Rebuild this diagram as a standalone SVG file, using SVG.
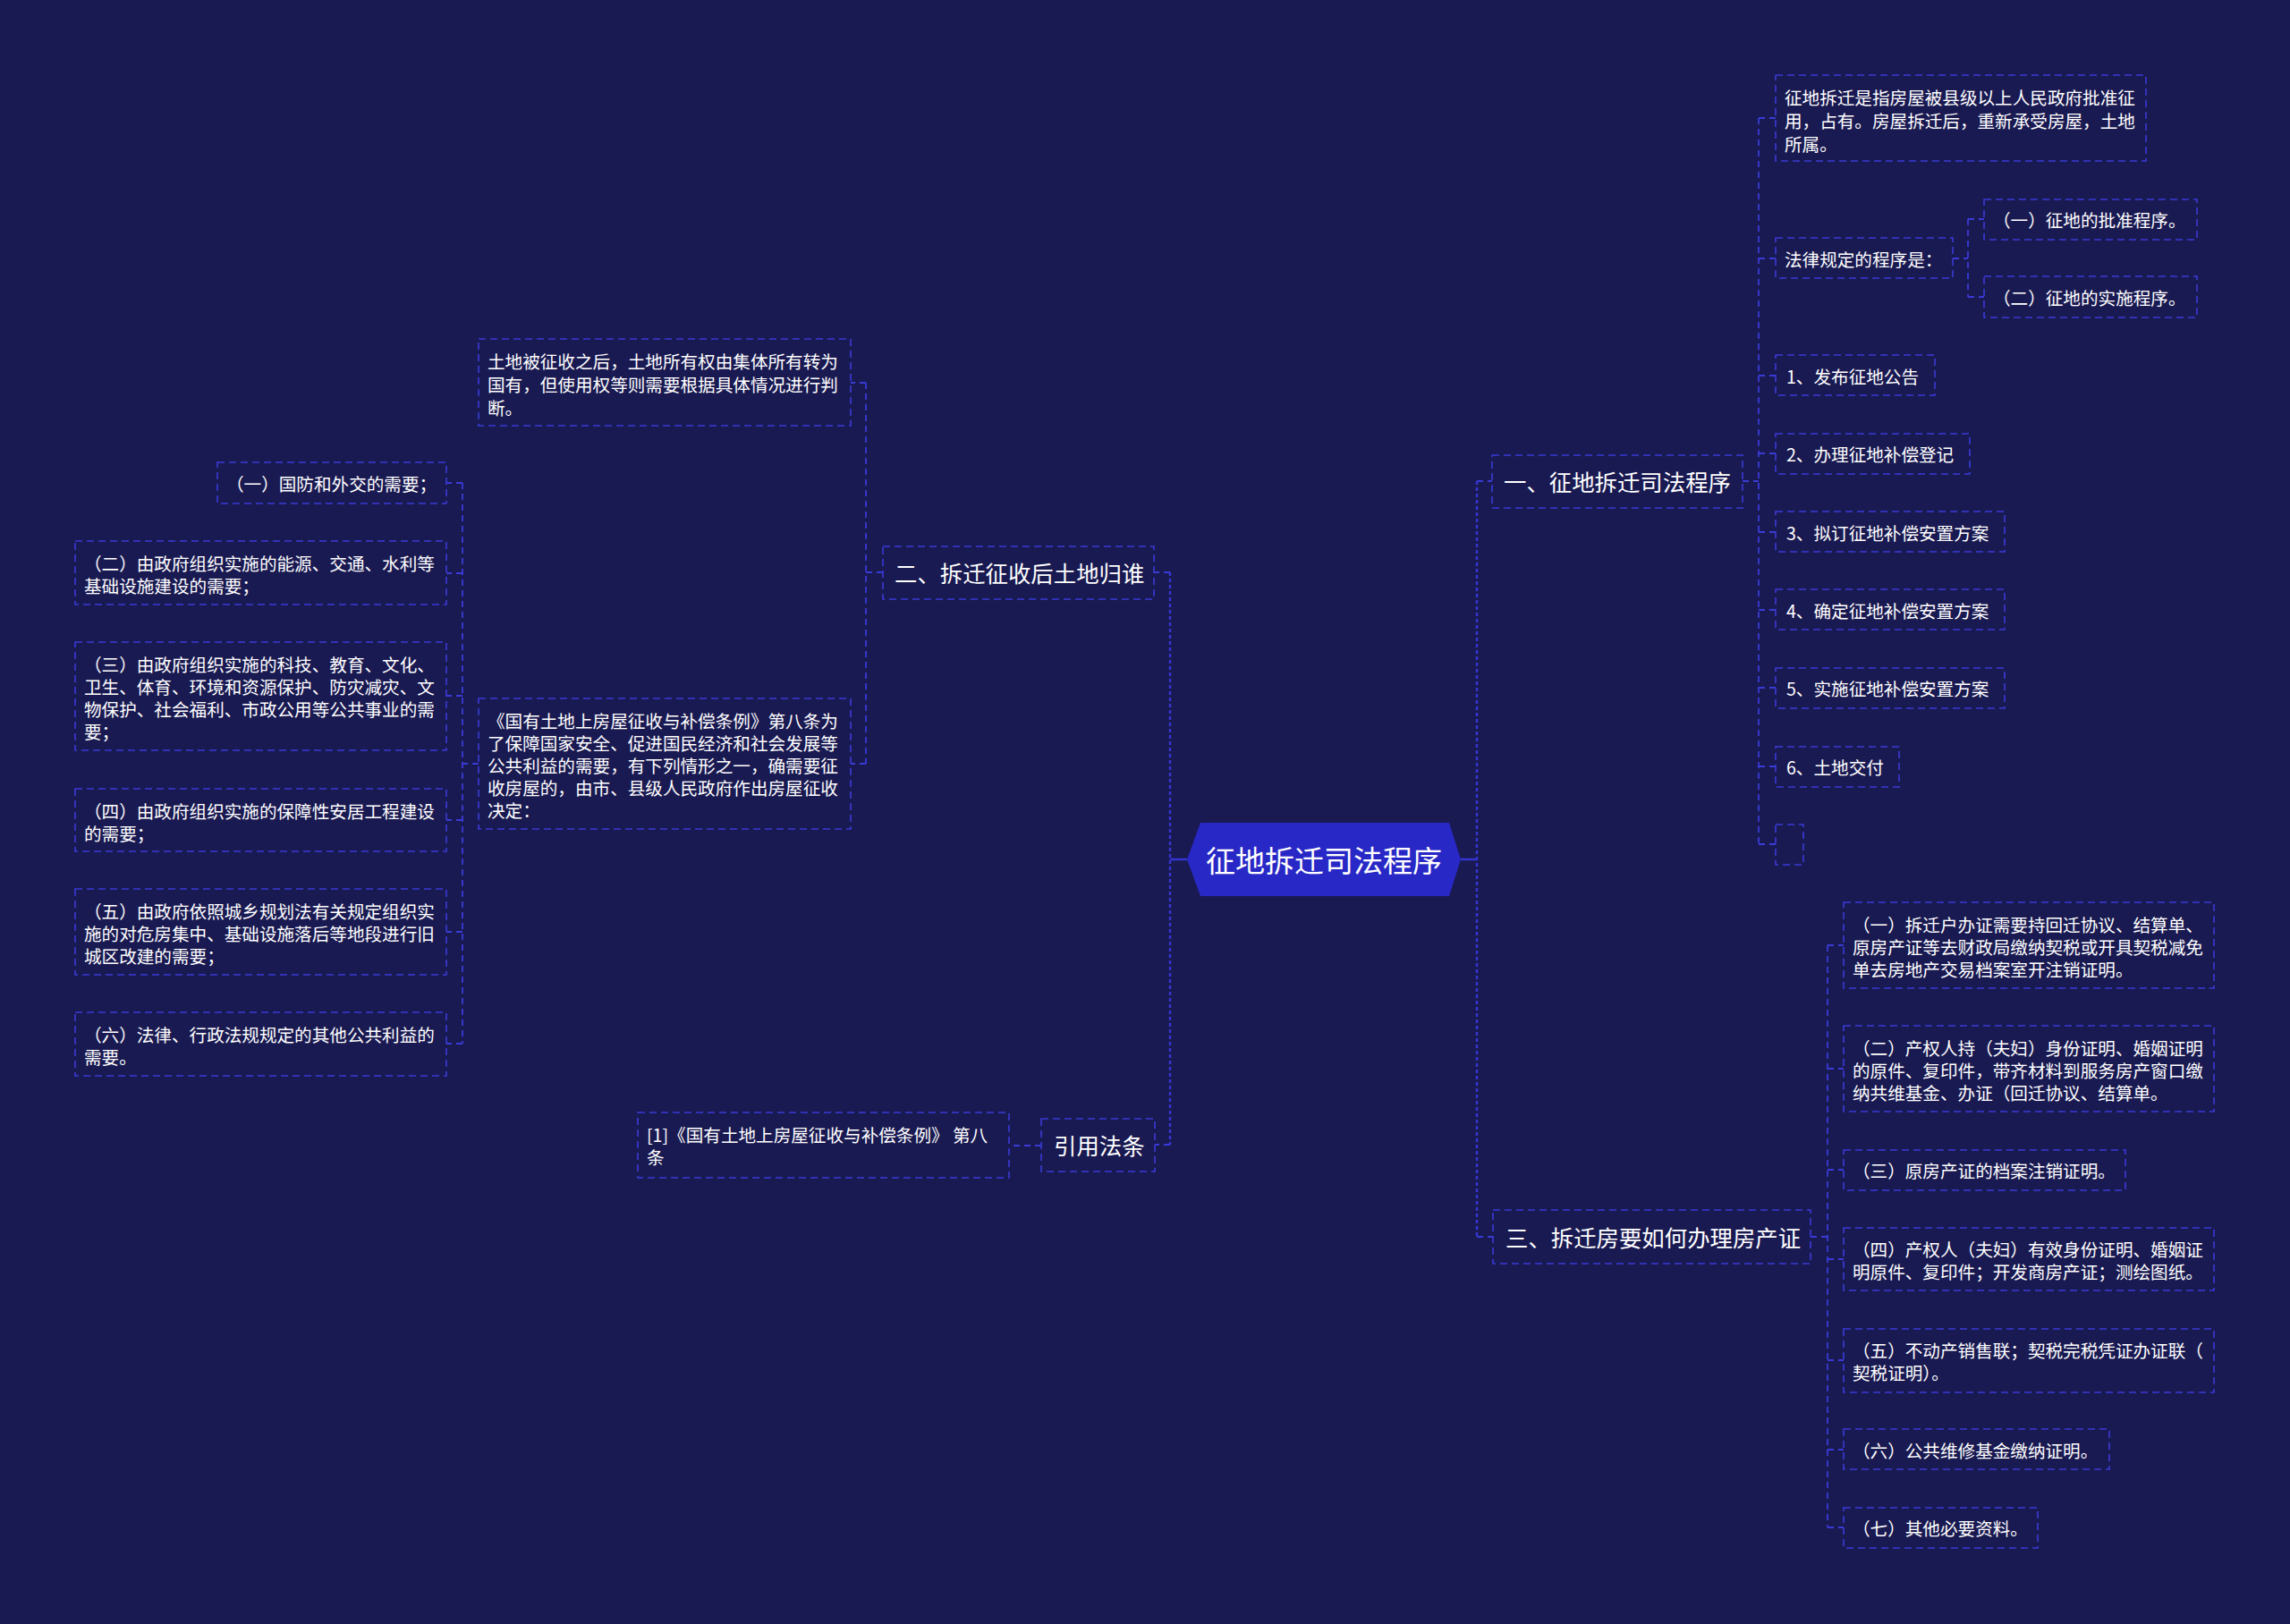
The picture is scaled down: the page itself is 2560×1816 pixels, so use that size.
<svg xmlns="http://www.w3.org/2000/svg" width="2560" height="1816" viewBox="0 0 2560 1816">
<style>
.bg{fill:#1a1a52}
.box{fill:none;stroke:#3a3ad6;stroke-width:1.6;stroke-dasharray:8 5}
.con{fill:none;stroke:#3a3ad6;stroke-width:1.8;stroke-dasharray:7 5}
.main{fill:none;stroke:#3535d0;stroke-width:2.5;stroke-dasharray:4 3}
.solid{fill:none;stroke:#3535d0;stroke-width:2.5}
.t{fill:#ffffff;font-family:"Noto Sans CJK SC","Noto Sans",sans-serif;font-size:19.6px;dominant-baseline:central}
.t1{fill:#ffffff;font-family:"Noto Sans CJK SC","Noto Sans",sans-serif;font-size:25.4px;dominant-baseline:central}
.t0{fill:#ffffff;font-family:"Noto Sans CJK SC","Noto Sans",sans-serif;font-size:33px;dominant-baseline:central;text-anchor:middle}
</style>
<rect class="bg" x="0" y="0" width="2560" height="1816"/>

<g id="connectors">
  <!-- center to spines -->
  <path class="solid" d="M1327 961 H1308"/>
  <path class="solid" d="M1633 961 H1651"/>
  <path class="main" d="M1308 640 V1280"/>
  <path class="main" d="M1651 538 V1383"/>
  <path class="con" d="M1308 640 H1290"/>
  <path class="con" d="M1308 1280 H1291"/>
  <path class="con" d="M1651 538 H1668"/>
  <path class="con" d="M1651 1383 H1669"/>
  <!-- N1 children -->
  <path class="con" d="M1948 538 H1966 M1966 132 V944 M1966 132 H1985 M1966 289 H1985 M1966 420 H1985 M1966 507 H1985 M1966 595 H1985 M1966 682 H1985 M1966 769 H1985 M1966 857 H1985 M1966 944 H1985"/>
  <path class="con" d="M2183 289 H2200 M2200 245 V332 M2200 245 H2218 M2200 332 H2218"/>
  <!-- N3 children -->
  <path class="con" d="M2024 1383 H2043 M2043 1057 V1708 M2043 1057 H2061 M2043 1195 H2061 M2043 1308 H2061 M2043 1408 H2061 M2043 1521 H2061 M2043 1621 H2061 M2043 1708 H2061"/>
  <!-- N2 children -->
  <path class="con" d="M987 640 H968 M968 428 V854 M968 428 H951 M968 854 H951"/>
  <path class="con" d="M535 854 H517 M517 540 V1167 M517 540 H499 M517 641 H499 M517 778 H499 M517 917 H499 M517 1042 H499 M517 1167 H499"/>
  <!-- N4 child -->
  <path class="con" d="M1164 1281 H1128"/>
</g>

<g id="center">
  <polygon points="1327,961 1342,920 1620,920 1633,961 1620,1002 1342,1002" fill="#2828c6"/>
  <text class="t0" x="1480" y="961">征地拆迁司法程序</text>
</g>

<g id="n1">
  <rect class="box" x="1668" y="509" width="280" height="59"/>
  <text class="t1" x="1681" y="538">一、征地拆迁司法程序</text>
</g>
<g id="n1-a1">
  <rect class="box" x="1985" y="84" width="414" height="96"/>
  <text class="t"><tspan x="1995" y="108">征地拆迁是指房屋被县级以上人民政府批准征</tspan><tspan x="1995" y="134">用，占有。房屋拆迁后，重新承受房屋，土地</tspan><tspan x="1995" y="160">所属。</tspan></text>
</g>
<g id="n1-a2">
  <rect class="box" x="1985" y="266" width="198" height="45"/>
  <text class="t" x="1995" y="289">法律规定的程序是：</text>
</g>
<g id="n1-a2a">
  <rect class="box" x="2218" y="223" width="238" height="45"/>
  <text class="t" x="2228" y="245">（一）征地的批准程序。</text>
</g>
<g id="n1-a2b">
  <rect class="box" x="2218" y="309" width="238" height="46"/>
  <text class="t" x="2228" y="332">（二）征地的实施程序。</text>
</g>
<g id="n1-b1">
  <rect class="box" x="1985" y="397" width="178" height="45"/>
  <text class="t" x="1997" y="420">1、发布征地公告</text>
</g>
<g id="n1-b2">
  <rect class="box" x="1985" y="485" width="217" height="45"/>
  <text class="t" x="1997" y="507">2、办理征地补偿登记</text>
</g>
<g id="n1-b3">
  <rect class="box" x="1985" y="572" width="256" height="45"/>
  <text class="t" x="1997" y="595">3、拟订征地补偿安置方案</text>
</g>
<g id="n1-b4">
  <rect class="box" x="1985" y="659" width="256" height="45"/>
  <text class="t" x="1997" y="682">4、确定征地补偿安置方案</text>
</g>
<g id="n1-b5">
  <rect class="box" x="1985" y="747" width="256" height="45"/>
  <text class="t" x="1997" y="769">5、实施征地补偿安置方案</text>
</g>
<g id="n1-b6">
  <rect class="box" x="1985" y="835" width="138" height="45"/>
  <text class="t" x="1997" y="857">6、土地交付</text>
</g>
<g id="n1-b7">
  <rect class="box" x="1985" y="922" width="31" height="45"/>
</g>

<g id="n3">
  <rect class="box" x="1669" y="1353" width="355" height="60"/>
  <text class="t1" x="1683" y="1383">三、拆迁房要如何办理房产证</text>
</g>
<g id="n3-c1">
  <rect class="box" x="2061" y="1009" width="414" height="96"/>
  <text class="t"><tspan x="2071" y="1033">（一）拆迁户办证需要持回迁协议、结算单、</tspan><tspan x="2071" y="1058">原房产证等去财政局缴纳契税或开具契税减免</tspan><tspan x="2071" y="1083">单去房地产交易档案室开注销证明。</tspan></text>
</g>
<g id="n3-c2">
  <rect class="box" x="2061" y="1147" width="414" height="96"/>
  <text class="t"><tspan x="2071" y="1171">（二）产权人持（夫妇）身份证明、婚姻证明</tspan><tspan x="2071" y="1196">的原件、复印件，带齐材料到服务房产窗口缴</tspan><tspan x="2071" y="1221">纳共维基金、办证（回迁协议、结算单。</tspan></text>
</g>
<g id="n3-c3">
  <rect class="box" x="2061" y="1286" width="315" height="45"/>
  <text class="t" x="2071" y="1308">（三）原房产证的档案注销证明。</text>
</g>
<g id="n3-c4">
  <rect class="box" x="2061" y="1373" width="414" height="70"/>
  <text class="t"><tspan x="2071" y="1396">（四）产权人（夫妇）有效身份证明、婚姻证</tspan><tspan x="2071" y="1421">明原件、复印件；开发商房产证；测绘图纸。</tspan></text>
</g>
<g id="n3-c5">
  <rect class="box" x="2061" y="1486" width="414" height="71"/>
  <text class="t"><tspan x="2071" y="1509">（五）不动产销售联；契税完税凭证办证联（</tspan><tspan x="2071" y="1534">契税证明）。</tspan></text>
</g>
<g id="n3-c6">
  <rect class="box" x="2061" y="1598" width="297" height="45"/>
  <text class="t" x="2071" y="1621">（六）公共维修基金缴纳证明。</text>
</g>
<g id="n3-c7">
  <rect class="box" x="2061" y="1686" width="217" height="45"/>
  <text class="t" x="2071" y="1708">（七）其他必要资料。</text>
</g>

<g id="n2">
  <rect class="box" x="987" y="611" width="303" height="59"/>
  <text class="t1" x="1000" y="640">二、拆迁征收后土地归谁</text>
</g>
<g id="n2-d1">
  <rect class="box" x="535" y="379" width="416" height="97"/>
  <text class="t"><tspan x="545" y="403">土地被征收之后，土地所有权由集体所有转为</tspan><tspan x="545" y="429">国有，但使用权等则需要根据具体情况进行判</tspan><tspan x="545" y="455">断。</tspan></text>
</g>
<g id="n2-d2">
  <rect class="box" x="535" y="781" width="416" height="146"/>
  <text class="t"><tspan x="545" y="805">《国有土地上房屋征收与补偿条例》第八条为</tspan><tspan x="545" y="830">了保障国家安全、促进国民经济和社会发展等</tspan><tspan x="545" y="855">公共利益的需要，有下列情形之一，确需要征</tspan><tspan x="545" y="880">收房屋的，由市、县级人民政府作出房屋征收</tspan><tspan x="545" y="905">决定：</tspan></text>
</g>
<g id="n2-e1">
  <rect class="box" x="243" y="517" width="256" height="46"/>
  <text class="t" x="253" y="540">（一）国防和外交的需要；</text>
</g>
<g id="n2-e2">
  <rect class="box" x="84" y="605" width="415" height="71"/>
  <text class="t"><tspan x="94" y="629">（二）由政府组织实施的能源、交通、水利等</tspan><tspan x="94" y="654">基础设施建设的需要；</tspan></text>
</g>
<g id="n2-e3">
  <rect class="box" x="84" y="718" width="415" height="121"/>
  <text class="t"><tspan x="94" y="742">（三）由政府组织实施的科技、教育、文化、</tspan><tspan x="94" y="767">卫生、体育、环境和资源保护、防灾减灾、文</tspan><tspan x="94" y="792">物保护、社会福利、市政公用等公共事业的需</tspan><tspan x="94" y="817">要；</tspan></text>
</g>
<g id="n2-e4">
  <rect class="box" x="84" y="882" width="415" height="70"/>
  <text class="t"><tspan x="94" y="906">（四）由政府组织实施的保障性安居工程建设</tspan><tspan x="94" y="931">的需要；</tspan></text>
</g>
<g id="n2-e5">
  <rect class="box" x="84" y="994" width="415" height="96"/>
  <text class="t"><tspan x="94" y="1018">（五）由政府依照城乡规划法有关规定组织实</tspan><tspan x="94" y="1043">施的对危房集中、基础设施落后等地段进行旧</tspan><tspan x="94" y="1068">城区改建的需要；</tspan></text>
</g>
<g id="n2-e6">
  <rect class="box" x="84" y="1132" width="415" height="71"/>
  <text class="t"><tspan x="94" y="1156">（六）法律、行政法规规定的其他公共利益的</tspan><tspan x="94" y="1181">需要。</tspan></text>
</g>

<g id="n4">
  <rect class="box" x="1164" y="1251" width="127" height="59"/>
  <text class="t1" x="1178" y="1280">引用法条</text>
</g>
<g id="n4-f1">
  <rect class="box" x="713" y="1244" width="415" height="73"/>
  <text class="t"><tspan x="723" y="1268">[1]《国有土地上房屋征收与补偿条例》 第八</tspan><tspan x="723" y="1293">条</tspan></text>
</g>
</svg>
